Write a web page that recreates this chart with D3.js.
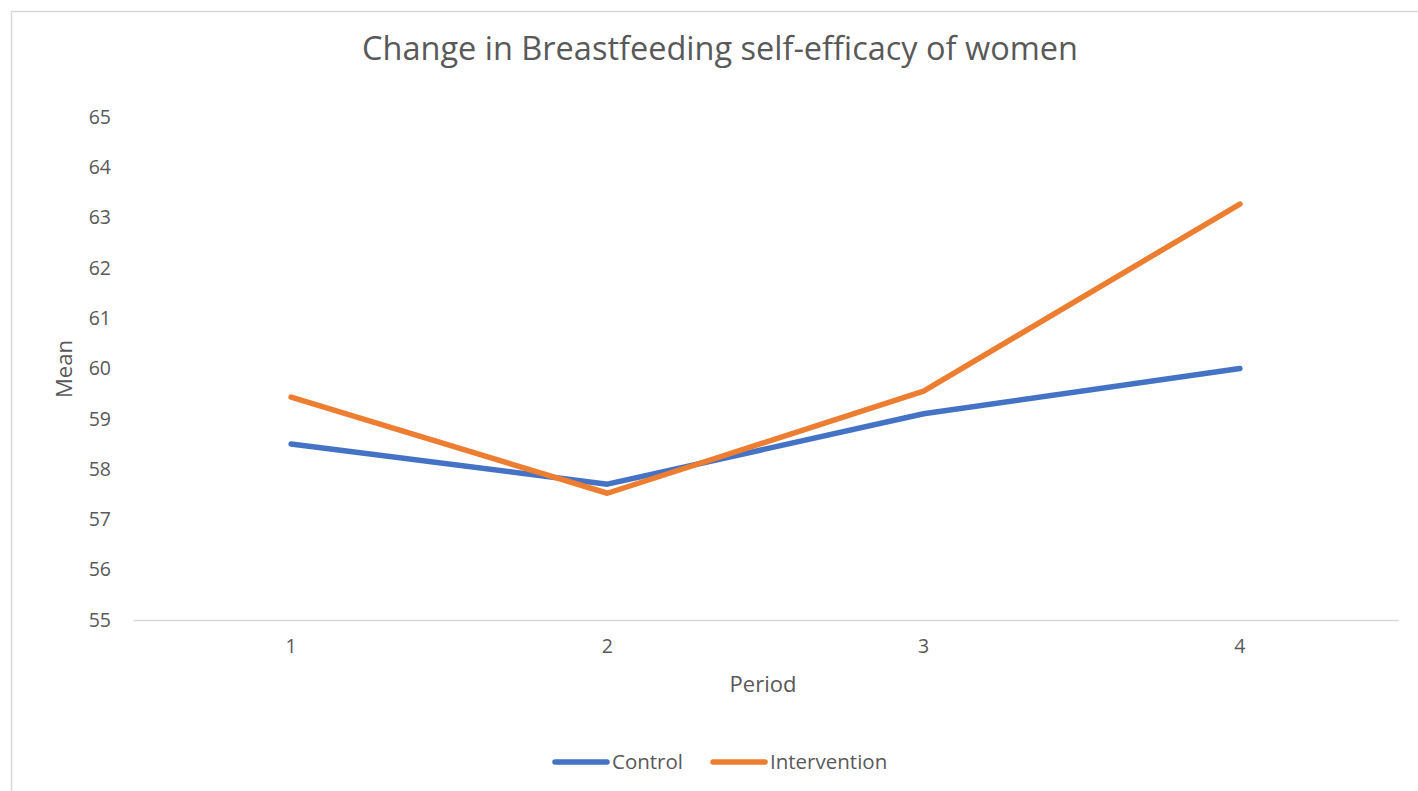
<!DOCTYPE html>
<html>
<head>
<meta charset="utf-8">
<script src="https://cdn.jsdelivr.net/npm/d3@7"></script>
<style>
  html, body { margin: 0; padding: 0; background: #fff; }
  svg { display: block; font-family: "Open Sans", "Noto Sans", sans-serif; }
</style>
</head>
<body>
<div id="chart"></div>
<script>
// data
const periods = ['1', '2', '3', '4'];
const control = [58.5, 57.7, 59.1, 60.0];
const intervention = [59.43, 57.52, 59.55, 63.27];
const yTicks = [55, 56, 57, 58, 59, 60, 61, 62, 63, 64, 65];

const W = 1418, H = 791;
const TEXT = '#595959';
const AXIS = '#d9d9d9';
const SERIES = [
  { name: 'Control', values: control, color: '#4472C4' },
  { name: 'Intervention', values: intervention, color: '#ED7D31' },
];

const svg = d3.select('#chart').append('svg')
  .attr('width', W)
  .attr('height', H);

// outer chart frame (cropped on the right and bottom)
svg.append('path')
  .attr('d', `M11.5,${H} V11.5 H${W}`)
  .attr('fill', 'none')
  .attr('stroke', AXIS)
  .attr('stroke-width', 1.5);

const x = d3.scaleBand().domain(periods).range([133, 1398]);
const y = d3.scaleLinear().domain([55, 65]).range([620, 117]);

svg.append('text')
  .attr('x', 720)
  .attr('y', 60)
  .attr('text-anchor', 'middle')
  .attr('fill', TEXT)
  .style('font-size', '32.5px')
  .text('Change in Breastfeeding self-efficacy of women');

// y axis labels only
svg.append('g')
  .attr('transform', 'translate(111,0)')
  .call(d3.axisLeft(y).tickValues(yTicks).tickSize(0).tickPadding(0))
  .call(g => g.select('.domain').remove())
  .call(g => g.selectAll('text')
    .attr('fill', TEXT)
    .style('font-size', '19.5px')
    .style('font-family', '"Open Sans", sans-serif'));

// x axis
svg.append('g')
  .attr('transform', 'translate(0,620)')
  .call(d3.axisBottom(x).tickSize(0).tickPadding(19))
  .call(g => g.select('.domain').attr('stroke', AXIS).attr('stroke-width', 1.5))
  .call(g => g.selectAll('text')
    .attr('fill', TEXT)
    .style('font-size', '19.5px')
    .style('font-family', '"Open Sans", sans-serif'));

svg.append('text')
  .attr('x', 763)
  .attr('y', 692)
  .attr('text-anchor', 'middle')
  .attr('fill', TEXT)
  .style('font-size', '22px')
  .text('Period');

svg.append('text')
  .attr('transform', 'translate(72,369) rotate(-90)')
  .attr('text-anchor', 'middle')
  .attr('fill', TEXT)
  .style('font-size', '22px')
  .text('Mean');

const line = d3.line()
  .x((d, i) => x(periods[i]) + x.bandwidth() / 2)
  .y(d => y(d));

svg.append('g').selectAll('path')
  .data(SERIES)
  .join('path')
  .attr('d', d => line(d.values))
  .attr('fill', 'none')
  .attr('stroke', d => d.color)
  .attr('stroke-width', 5.5)
  .attr('stroke-linecap', 'round')
  .attr('stroke-linejoin', 'round');

// legend
const legendItems = [
  { x: 555, textX: 612 },
  { x: 713, textX: 770 },
];
const legend = svg.append('g').selectAll('g')
  .data(SERIES)
  .join('g');
legend.append('line')
  .attr('x1', (d, i) => legendItems[i].x)
  .attr('x2', (d, i) => legendItems[i].x + 52)
  .attr('y1', 762)
  .attr('y2', 762)
  .attr('stroke', d => d.color)
  .attr('stroke-width', 5.5)
  .attr('stroke-linecap', 'round');
legend.append('text')
  .attr('x', (d, i) => legendItems[i].textX)
  .attr('y', 769)
  .attr('fill', TEXT)
  .style('font-size', '20.5px')
  .text(d => d.name);
</script>
</body>
</html>
